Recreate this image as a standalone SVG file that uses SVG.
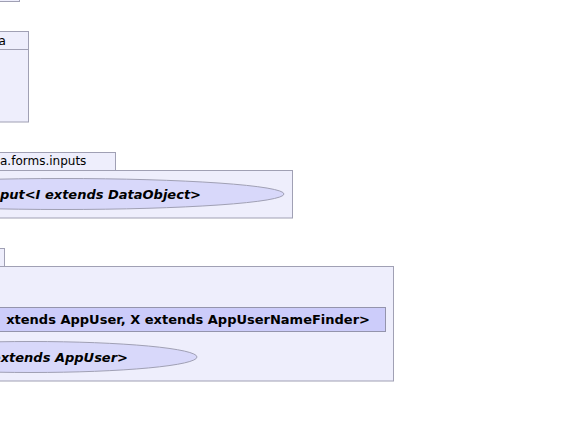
<svg xmlns="http://www.w3.org/2000/svg" width="575" height="427" viewBox="0 0 575 427">
  <style>
    .pkg { fill: #EEEEFC; stroke: #A0A0B4; stroke-width: 1; }
    .cls { fill: #CCCCFA; stroke: #9494AC; stroke-width: 1; }
    .uc { fill: #D8D8FA; stroke: #A0A0B4; stroke-width: 1; }
    .tab { font-family: "DejaVu Sans", sans-serif; font-size: 12px; fill: #000; }
    .bi { font-family: "DejaVu Sans", sans-serif; font-size: 13px; font-weight: bold; font-style: italic; fill: #000; }
    .b { font-family: "DejaVu Sans", sans-serif; font-size: 13px; font-weight: bold; fill: #000; }
  </style>
  <rect width="575" height="427" fill="#FFFFFF"/>
  <g id="connectors"></g>

  <g id="pkg-top">
    <rect class="pkg" x="-20" y="-20" width="39.5" height="21.5"/>
  </g>

  <g id="pkg-a">
    <rect class="pkg" x="-60" y="31.5" width="88.5" height="18"/>
    <rect class="pkg" x="-60" y="49.5" width="88.5" height="72.5"/>
    <text class="tab" x="-1.5" y="45">a</text>
  </g>

  <g id="pkg-forms-inputs">
    <rect class="pkg" x="-60" y="152.5" width="175.5" height="18"/>
    <rect class="pkg" x="-60" y="170.5" width="352.5" height="47.5"/>
    <text class="tab" x="0" y="165">a.forms.inputs</text>
    <g id="input">
      <ellipse class="uc" cx="62" cy="194" rx="222" ry="15.5"/>
      <text class="bi" x="201" y="198.5" text-anchor="end">put&lt;I extends DataObject&gt;</text>
    </g>
  </g>

  <g id="pkg-user">
    <rect class="pkg" x="-60" y="248.5" width="64.5" height="18"/>
    <rect class="pkg" x="-60" y="266.5" width="453.5" height="114.5"/>
    <g id="user-class">
      <rect class="cls" x="-20" y="307.5" width="405.5" height="24"/>
      <text class="b" x="370" y="323.5" text-anchor="end">xtends AppUser, X extends AppUserNameFinder&gt;</text>
    </g>
    <g id="user-abstract">
      <ellipse class="uc" cx="31" cy="357" rx="166" ry="15.5"/>
      <text class="bi" x="128" y="361.5" text-anchor="end">extends AppUser&gt;</text>
    </g>
  </g>
</svg>
